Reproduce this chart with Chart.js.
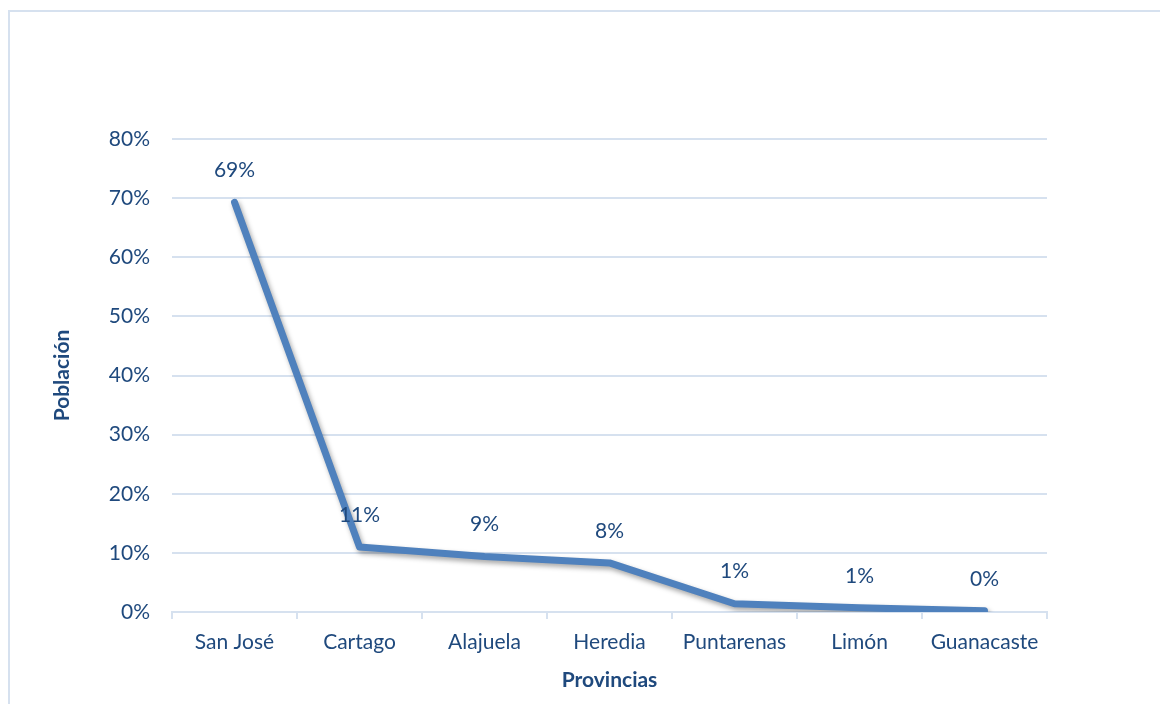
<!DOCTYPE html>
<html lang="es">
<head>
<meta charset="utf-8">
<title>Población por provincia</title>
<script src="https://cdn.jsdelivr.net/npm/chart.js@4.4.1/dist/chart.umd.min.js"></script>
<style>
    html, body {
        margin: 0;
        padding: 0;
        background: #ffffff;
        overflow: hidden;
    }
    #marco {
        position: absolute;
        left: 8px;
        top: 10px;
        width: 1400px;
        height: 900px;
        border: 2px solid #d6e1ef;
    }
    #grafico {
        position: absolute;
        left: 0;
        top: 0;
    }
</style>
</head>
<body>
<div id="marco"></div>
<canvas id="grafico" width="1160" height="704"></canvas>
<script>
    const provincias = ['San José', 'Cartago', 'Alajuela', 'Heredia', 'Puntarenas', 'Limón', 'Guanacaste'];
    const poblacion = [69.3, 11.0, 9.4, 8.3, 1.4, 0.7, 0.2];
    const marcasY = [0, 10, 20, 30, 40, 50, 60, 70, 80];

    const azulTexto = '#1f497d';
    const fuente = 'Lato, "Open Sans", sans-serif';
    const tam = 21;

    // sombra suave debajo de la línea
    const sombraLinea = {
        id: 'sombraLinea',
        beforeDatasetsDraw(chart) {
            const c = chart.ctx;
            c.save();
            c.shadowColor = 'rgba(0, 0, 0, 0.35)';
            c.shadowBlur = 5;
            c.shadowOffsetX = 2;
            c.shadowOffsetY = 3;
        },
        afterDatasetsDraw(chart) {
            chart.ctx.restore();
        }
    };

    // etiquetas de porcentaje encima de cada punto
    const etiquetas = {
        id: 'etiquetas',
        afterDatasetsDraw(chart) {
            const c = chart.ctx;
            const meta = chart.getDatasetMeta(0);
            c.save();
            c.font = tam + 'px ' + fuente;
            c.fillStyle = azulTexto;
            c.textAlign = 'center';
            c.textBaseline = 'middle';
            meta.data.forEach((pt, i) => {
                c.fillText(Math.round(poblacion[i]) + '%', pt.x, pt.y - 32);
            });
            c.restore();
        }
    };

    const ctx = document.getElementById('grafico').getContext('2d');
    new Chart(ctx, {
        type: 'line',
        data: {
            labels: provincias,
            datasets: [{
                label: 'Población',
                data: poblacion,
                borderColor: '#4f81bd',
                borderWidth: 7,
                borderCapStyle: 'round',
                borderJoinStyle: 'round',
                pointRadius: 0,
                tension: 0,
                fill: false
            }]
        },
        options: {
            responsive: false,
            animation: false,
            layout: {
                padding: { top: 139, right: 113, left: 0, bottom: 0 }
            },
            plugins: {
                legend: { display: false },
                tooltip: { enabled: false }
            },
            scales: {
                x: {
                    offset: true,
                    grid: {
                        offset: true,
                        drawOnChartArea: false,
                        color: '#d6e1ef',
                        lineWidth: 2,
                        tickLength: 7
                    },
                    border: { color: '#d6e1ef', width: 2 },
                    ticks: {
                        color: azulTexto,
                        font: { family: fuente, size: tam },
                        padding: 11,
                        maxRotation: 0,
                        autoSkip: false
                    },
                    title: {
                        display: true,
                        text: 'Provincias',
                        color: azulTexto,
                        font: { family: fuente, size: tam, weight: 'bold' },
                        padding: { top: 0, bottom: 11 }
                    },
                    afterFit(scale) {
                        scale.height = 92;
                    }
                },
                y: {
                    min: 0,
                    max: 80,
                    afterBuildTicks(scale) {
                        scale.ticks = marcasY.map(v => ({ value: v }));
                    },
                    grid: {
                        color: '#d6e1ef',
                        lineWidth: 2,
                        drawTicks: false
                    },
                    border: { display: false },
                    ticks: {
                        color: azulTexto,
                        font: { family: fuente, size: tam },
                        padding: 22,
                        callback: v => v + '%'
                    },
                    title: {
                        display: true,
                        text: 'Población',
                        color: azulTexto,
                        font: { family: fuente, size: tam, weight: 'bold' },
                        padding: { top: 50, bottom: 0 }
                    },
                    afterFit(scale) {
                        scale.width = 172;
                    }
                }
            }
        },
        plugins: [sombraLinea, etiquetas]
    });
</script>
</body>
</html>
